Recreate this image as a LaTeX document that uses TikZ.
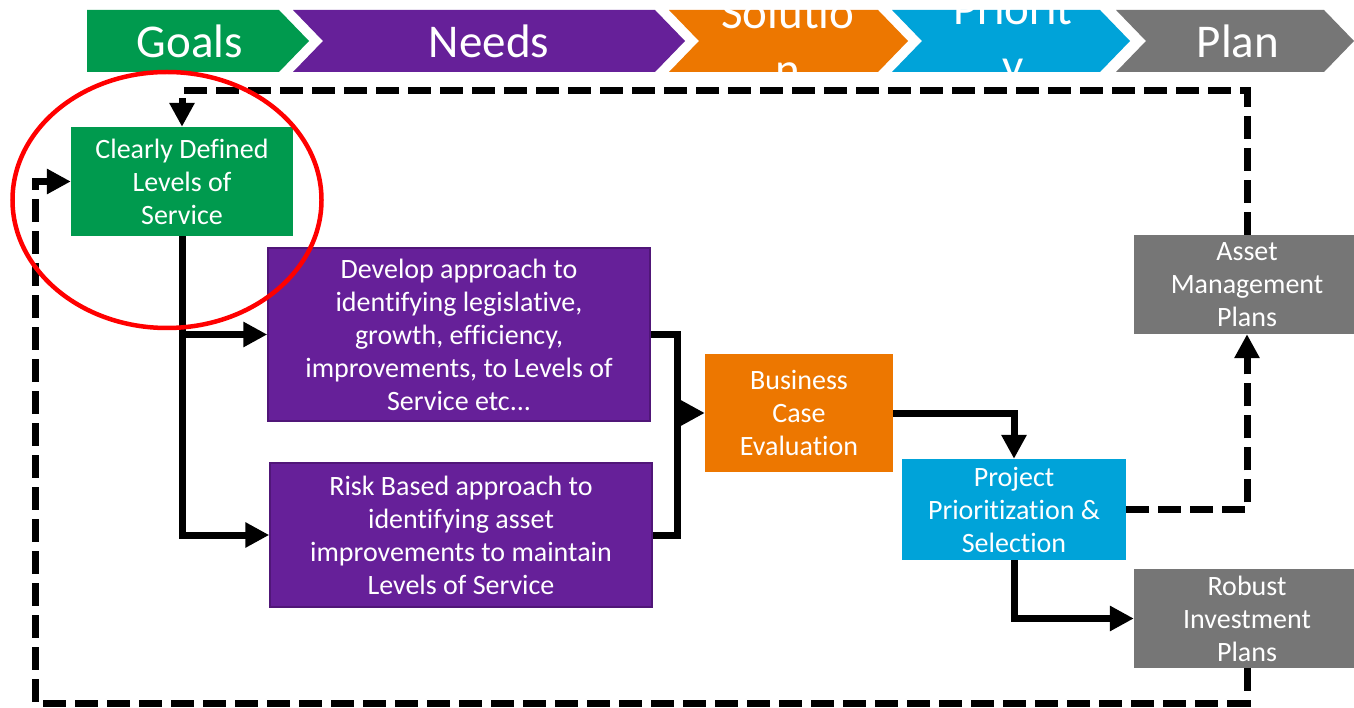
\documentclass[tikz,border=0pt]{standalone}
\usepackage{fontspec}
\setmainfont{Carlito}[Ligatures={NoCommon}]
\usepackage{xcolor}
\usepackage{tikz}
\usetikzlibrary{arrows.meta,positioning}

\definecolor{goalgreen}{RGB}{0,154,78}
\definecolor{needpurple}{RGB}{102,32,153}
\definecolor{neededge}{RGB}{80,22,120}
\definecolor{solorange}{RGB}{237,119,0}
\definecolor{prioblue}{RGB}{0,163,217}
\definecolor{plangray}{RGB}{118,118,118}

\begin{document}
\begin{tikzpicture}[x=1pt,y=-1pt,
  box/.style={rectangle, inner sep=0pt, align=center, text=white, font=\fontsize{28}{33}\selectfont},
  phase/.style={inner sep=0pt, align=center, text=white, font=\fontsize{47}{57}\selectfont},
  wire/.style={line width=7pt},
  flowline/.style={wire, -{Triangle[length=24pt,width=24pt]}},
  backflow/.style={flowline, dash pattern=on 23pt off 9pt}]
\useasboundingbox (0,0) rectangle (1354,708);
\clip (0,0) rectangle (1354,708);
\fill[white] (0,0) rectangle (1354,708);

% phase chevrons
\fill[goalgreen] (87,10) -- (279,10) -- (309,41) -- (279,72) -- (87,72) -- cycle;
\foreach \l/\r/\c in {293/655/needpurple, 669/878/solorange, 892/1100/prioblue, 1116/1324/plangray}
  \fill[\c] (\l,10) -- (\r,10) -- (\r+30,41) -- (\r,72) -- (\l,72) -- (\l+30,41) -- cycle;

\node[phase] (goals) at (190,41) {Goals};
\node[phase] (needs) at (489,41) {Needs};
\node[phase] (solution) at (788,41) {Solutio\\n};
\node[phase] (priority) at (1013,41) {Priorit\\y};
\node[phase] (plan) at (1238,41) {Plan};

% steps
\node[box, fill=goalgreen, minimum width=222pt, minimum height=109pt] (cld) at (182,181.5) {Clearly Defined\\Levels of\\Service};
\node[box, fill=needpurple, draw=neededge, line width=1.5pt, minimum width=382pt, minimum height=173pt] (dev) at (459,334.5) {Develop approach to\\identifying legislative,\\growth, efficiency,\\improvements, to Levels of\\Service etc...};
\node[box, fill=needpurple, draw=neededge, line width=1.5pt, minimum width=382pt, minimum height=144pt] (risk) at (461,535) {Risk Based approach to\\identifying asset\\improvements to maintain\\Levels of Service};
\node[box, fill=solorange, minimum width=188pt, minimum height=118pt] (bce) at (799,413) {Business\\Case\\Evaluation};
\node[box, fill=prioblue, minimum width=224pt, minimum height=101pt] (pps) at (1014,509.5) {Project\\Prioritization \&\\Selection};
\node[box, fill=plangray, minimum width=226pt, minimum height=99pt] (amp) at (1247,284.5) {Asset\\Management\\Plans};
\node[box, fill=plangray, minimum width=226pt, minimum height=99pt] (rip) at (1247,618.5) {Robust\\Investment\\Plans};

\coordinate[left=27pt of bce.west] (mrg);
\coordinate (rtop) at (182,91);
\coordinate (rbot) at (35,703);

% connectors
\draw[flowline] (cld.south) |- (risk.west);
\draw[flowline] (cld.south |- dev.west) -- (dev.west);
\draw[wire] (dev.east) -| (mrg) |- (risk.east);
\draw[flowline] (mrg) -- (bce.west);
\draw[flowline] (bce.east) -| (pps.north);
\draw[flowline] (pps.south) |- (rip.west);
\draw[backflow] (pps.east) -| (amp.south);
\draw[backflow] (amp.north) |- (rtop) -- (cld.north);
\draw[backflow] (rip.south) |- (rbot) |- (cld.west);

\draw[red, line width=4.5pt] (167,200) ellipse [x radius=154.5pt, y radius=128pt];
\end{tikzpicture}
\end{document}
